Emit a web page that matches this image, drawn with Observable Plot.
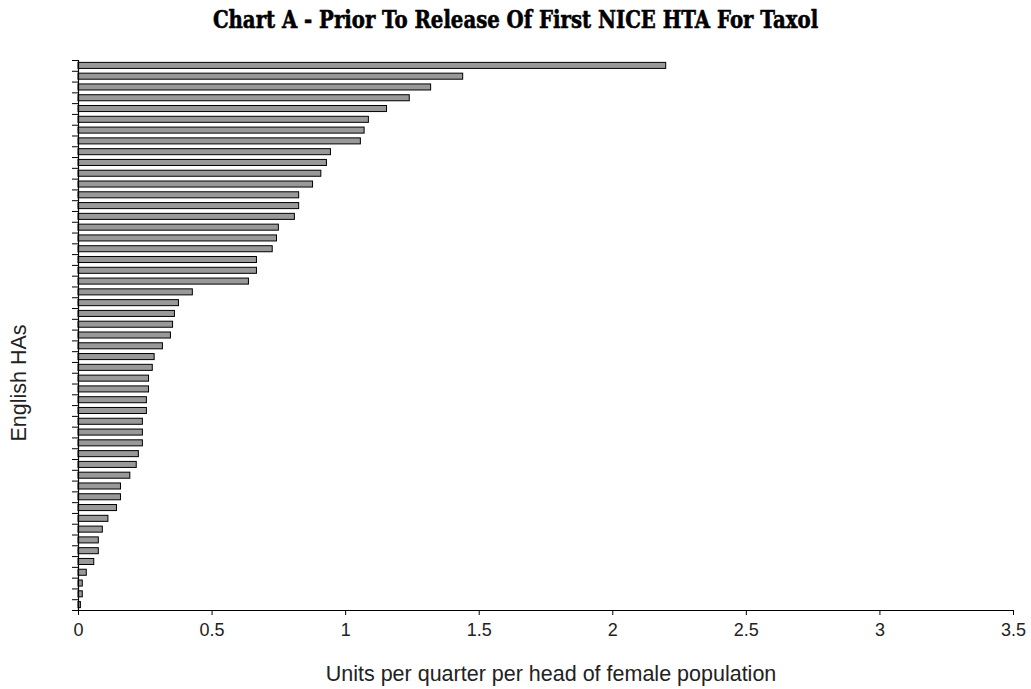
<!DOCTYPE html>
<html>
<head>
<meta charset="utf-8">
<script src="https://cdn.jsdelivr.net/npm/d3@7"></script>
<script src="https://cdn.jsdelivr.net/npm/@observablehq/plot@0.6"></script>
<style>
  html, body { margin: 0; padding: 0; background: #fff; }
  #wrap { position: relative; width: 1031px; height: 689px; }
  #title {
    width: 1031px; height: 40px; line-height: 42px; text-align: center;
    font-family: "DejaVu Serif", "Liberation Serif", serif; font-weight: bold;
    font-size: 19.7px; color: #000; white-space: nowrap;
    transform: scaleY(1.2); transform-origin: 50% 21px;
    -webkit-text-stroke: 0.5px #000;
  }
  #ylabel {
    position: absolute; left: 20px; top: 383px;
    transform: translate(-50%, -50%) rotate(-90deg);
    font-family: "Liberation Sans", Arial, sans-serif; font-size: 21.5px;
    color: #222; white-space: nowrap; line-height: 1;
  }
  #chart svg { display: block; }
</style>
</head>
<body>
<div id="wrap">
  <div id="title"></div>
  <div id="chart"></div>
  <div id="ylabel"></div>
</div>
<script>
const chartTitle = "Chart A - Prior To Release Of First NICE HTA For Taxol";
const xLabel = "Units per quarter per head of female population";
const yLabel = "English HAs";

// Units per quarter per head of female population, one value per English HA (sorted, top to bottom)
const unitsPerHead = [
  2.20, 1.44, 1.32, 1.24, 1.155, 1.087, 1.071, 1.057, 0.945, 0.930,
  0.909, 0.878, 0.826, 0.826, 0.810, 0.750, 0.743, 0.727, 0.668, 0.668,
  0.638, 0.428, 0.376, 0.361, 0.354, 0.346, 0.316, 0.285, 0.278, 0.264,
  0.264, 0.256, 0.256, 0.241, 0.241, 0.241, 0.226, 0.218, 0.194, 0.159,
  0.159, 0.144, 0.112, 0.091, 0.076, 0.076, 0.059, 0.031, 0.016, 0.016,
  0.009
];
const xTicks = [0, 0.5, 1, 1.5, 2, 2.5, 3, 3.5];

document.getElementById("title").textContent = chartTitle;
document.getElementById("ylabel").textContent = yLabel;

const n = unitsPerHead.length;
const rows = unitsPerHead.map((v, i) => ({rank: i, value: v}));

const plot = Plot.plot({
  width: 1031,
  height: 649,
  marginTop: 20,
  marginBottom: 79,
  marginLeft: 78,
  marginRight: 18,
  style: {fontFamily: "'Liberation Sans', Arial, sans-serif", fontSize: "18px", color: "#222", background: "#fff"},
  x: {domain: [0, 3.5]},
  y: {domain: [0, n], reverse: true},
  marks: [
    Plot.rect(rows, {
      x1: 0, x2: "value",
      y1: d => d.rank + 0.22, y2: d => d.rank + 0.78,
      fill: "#999999", stroke: "#000", strokeWidth: 1
    }),
    Plot.axisY({ticks: d3.range(0, n + 1), tickSize: 6, tickFormat: () => "", label: null, stroke: "#000"}),
    Plot.axisX({ticks: xTicks, tickSize: 5, tickPadding: 8, tickFormat: d => String(d), label: null, stroke: "#000"}),
    Plot.ruleX([0], {stroke: "#000", strokeWidth: 1.2}),
    Plot.ruleY([n], {stroke: "#000", strokeWidth: 1.2}),
    Plot.text([xLabel], {text: d => d, frameAnchor: "bottom", dx: 5, dy: 70, fontSize: 21.5, fill: "#222"})
  ]
});
document.getElementById("chart").appendChild(plot);
</script>
</body>
</html>
